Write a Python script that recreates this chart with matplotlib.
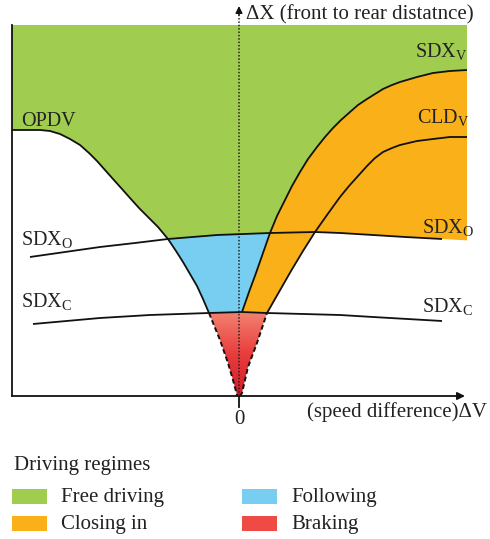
import numpy as np
import matplotlib
matplotlib.use("Agg")
import matplotlib.pyplot as plt
from matplotlib.patches import Polygon, Rectangle
from matplotlib.colors import LinearSegmentedColormap

plt.rcParams['font.family'] = ['Liberation Serif', 'DejaVu Serif']
plt.rcParams['mathtext.fontset'] = 'custom'
plt.rcParams['mathtext.rm'] = 'Liberation Serif'
plt.rcParams['mathtext.it'] = 'Liberation Serif:italic'

# ---- boundary curves in the (ΔV, ΔX) plane ----
opdv_dv = [-227, -199, -189, -179, -169, -159, -150, -142, -134, -126, -117,
           -109, -100, -92, -81, -71, -63, -56, -49, -42, -36, -30]
opdv_dx = [266, 266, 265, 262, 257, 251, 243, 235, 226, 217, 207,
           198, 188, 180, 169, 157, 145, 134, 122, 110, 97, 83]
opdv_tail_dv = [-30, -19, -11, -6, -2, -1]
opdv_tail_dx = [83, 56, 33, 16, 1, 0]

sdxv_dv = [3, 10, 17, 24, 31, 38, 46, 53, 61, 69, 78, 86, 94, 102, 111,
           119, 128, 136, 144, 153, 161, 178, 194, 211, 228]
sdxv_dx = [84, 104, 123, 143, 163, 180, 196, 210, 224, 237, 249, 259, 268, 276, 284,
           291, 297, 302, 307, 311, 314, 319, 323, 325, 326]

cldv_dv = [28, 40, 52, 64, 76, 88, 101, 110, 119, 128, 136, 144, 153, 161,
           178, 194, 211, 228]
cldv_dx = [83, 104, 125, 145, 164, 181, 199, 210, 220, 230, 238, 244, 248, 251,
           255, 257, 259, 259]
cldv_tail_dv = [1, 3, 9, 18, 28]
cldv_tail_dx = [0, 3, 29, 53, 83]

sdxo_dv = [-209, -174, -139, -104, -71, -22, 31, 76, 101, 134, 166, 203]
sdxo_dx = [139, 144, 149, 153, 157, 161, 163, 164, 163, 161, 159, 157]

sdxc_dv = [-206, -139, -89, -30, 3, 28, 101, 134, 203]
sdxc_dx = [72, 78, 81, 83, 84, 83, 81, 79, 75]

regime_labels = ['Free driving', 'Closing in', 'Following', 'Braking']
regime_colors = ['#a0cd50', '#fab018', '#78cef0', '#ef4b44']
GREEN, ORANGE, BLUE, RED = regime_colors

XMIN, XMAX, YMAX = -227, 228, 371

fig = plt.figure(figsize=(4.9, 5.39), dpi=100)
fig.patch.set_facecolor('white')
W, H = 490, 539
ax = fig.add_axes([12 / W, (H - 396) / H, (467 - 12) / W, (396 - 25) / H])
ax.set_xlim(XMIN, XMAX)
ax.set_ylim(0, YMAX)
ax.patch.set_visible(False)


def seg(dv, dx, lo, hi, reverse=False):
    dv = np.asarray(dv, float)
    dx = np.asarray(dx, float)
    m = (dv >= lo) & (dv <= hi)
    pts = np.column_stack([dv[m], dx[m]])
    return pts[::-1] if reverse else pts


def meet(a, b):
    return np.intersect1d(a, b)[0]


v_o_opdv = meet(opdv_dv, sdxo_dv)
v_c_opdv = meet(opdv_dv, sdxc_dv)
v_o_sdxv = meet(sdxv_dv, sdxo_dv)
v_c_sdxv = meet(sdxv_dv, sdxc_dv)
v_o_cldv = meet(cldv_dv, sdxo_dv)
v_c_cldv = meet(cldv_dv, sdxc_dv)

# SDX_O carried on to the right edge of the plot for the orange area
slope = (sdxo_dx[-1] - sdxo_dx[-2]) / (sdxo_dv[-1] - sdxo_dv[-2])
sdxo_edge = sdxo_dx[-1] + slope * (XMAX - sdxo_dv[-1])

green = np.vstack([
    [[XMIN, YMAX], [XMAX, YMAX]],
    seg(sdxv_dv, sdxv_dx, v_o_sdxv, XMAX, True),
    seg(sdxo_dv, sdxo_dx, v_o_opdv, v_o_sdxv, True),
    seg(opdv_dv, opdv_dx, XMIN, v_o_opdv, True),
])
blue = np.vstack([
    seg(opdv_dv, opdv_dx, v_o_opdv, v_c_opdv),
    seg(sdxc_dv, sdxc_dx, v_c_opdv, v_c_sdxv),
    seg(sdxv_dv, sdxv_dx, v_c_sdxv, v_o_sdxv),
    seg(sdxo_dv, sdxo_dx, v_o_opdv, v_o_sdxv, True),
])
orange = np.vstack([
    seg(sdxv_dv, sdxv_dx, v_c_sdxv, XMAX),
    [[XMAX, sdxo_edge]],
    seg(sdxo_dv, sdxo_dx, v_o_cldv, XMAX, True),
    seg(cldv_dv, cldv_dx, v_c_cldv, v_o_cldv, True),
    seg(sdxc_dv, sdxc_dx, v_c_sdxv, v_c_cldv, True),
])
red = np.vstack([
    np.column_stack([opdv_tail_dv, opdv_tail_dx]),
    np.column_stack([cldv_tail_dv, cldv_tail_dx]),
    seg(sdxc_dv, sdxc_dx, v_c_opdv, v_c_cldv, True),
])

for pts, col in [(green, GREEN), (blue, BLUE), (orange, ORANGE)]:
    ax.add_patch(Polygon(pts, closed=True, fc=col, ec='none', zorder=1))

red_patch = Polygon(red, closed=True, fc='none', ec='none', zorder=1)
ax.add_patch(red_patch)
red_cmap = LinearSegmentedColormap.from_list('brake', ['#d21c28', '#e83c3c', '#f3806e'])
grad = np.linspace(0, 1, 256).reshape(-1, 1)
img = ax.imshow(grad, cmap=red_cmap, origin='lower', aspect='auto',
                extent=(min(opdv_tail_dv), max(cldv_tail_dv), 0, max(cldv_tail_dx)),
                zorder=1, interpolation='bilinear')
img.set_clip_path(red_patch)
ax.set_xlim(XMIN, XMAX)
ax.set_ylim(0, YMAX)

line_kw = dict(color='#111111', lw=1.3, zorder=3, solid_joinstyle='round',
               solid_capstyle='butt')
for dv, dx in [(opdv_dv, opdv_dx), (sdxv_dv, sdxv_dx), (cldv_dv, cldv_dx),
               (sdxo_dv, sdxo_dx), (sdxc_dv, sdxc_dx)]:
    ax.plot(dv, dx, **line_kw)
for dv, dx in [(opdv_tail_dv, opdv_tail_dx), (cldv_tail_dv, cldv_tail_dx)]:
    ax.plot(dv, dx, color='#111111', lw=1.4, ls=(0, (2.5, 1.5)), zorder=3)

# axes
for s in ['top', 'right', 'bottom']:
    ax.spines[s].set_visible(False)
ax.spines['left'].set_linewidth(1.3)
ax.spines['left'].set_color('#111111')
ax.set_xticks([])
ax.set_yticks([])

ax.annotate('', xy=(226, 0), xytext=(XMIN, 0), annotation_clip=False,
            arrowprops=dict(arrowstyle='-|>', lw=1.3, color='#111111',
                            mutation_scale=11, shrinkA=0, shrinkB=0))
ax.plot([0, 0], [0, 382], color='#222222', lw=1.1, ls=(0, (1, 1.2)),
        clip_on=False, zorder=4)
ax.annotate('', xy=(0, 390), xytext=(0, 381), annotation_clip=False,
            arrowprops=dict(arrowstyle='-|>', lw=1.1, color='#111111',
                            mutation_scale=10, shrinkA=0, shrinkB=0))
ax.plot([0, 0], [0, -11], color='#111111', lw=1.3, clip_on=False)

FS = 15
ax.text(0, -24, '0', fontsize=FS, ha='center', va='center', color='#222222')
ax.text(248, -16, '(speed difference)ΔV', fontsize=FS, ha='right', va='center',
        color='#222222')
ax.text(7, 381, 'ΔX (front to rear distatnce)', fontsize=FS, ha='left',
        va='center', color='#222222')

LFS = 14.5
labels = [
    (-218, 270, 'OPDV'),
    (-218, 151, r'SDX$_\mathrm{O}$'),
    (-218, 89, r'SDX$_\mathrm{C}$'),
    (176, 339, r'SDX$_\mathrm{V}$'),
    (178, 273, r'CLD$_\mathrm{V}$'),
    (183, 163, r'SDX$_\mathrm{O}$'),
    (183, 84, r'SDX$_\mathrm{C}$'),
]
for x, y, t in labels:
    ax.text(x, y, t, fontsize=LFS, ha='left', va='baseline', color='#222222')

# legend drawn in figure pixel units
lax = fig.add_axes([0, 0, 1, 1])
lax.set_xlim(0, W)
lax.set_ylim(H, 0)
lax.axis('off')
lax.patch.set_visible(False)
lax.text(14, 470, 'Driving regimes', fontsize=FS, ha='left', va='baseline',
         color='#222222')
cols = [12, 12, 242, 242]
rows = [489, 516, 489, 516]
for lab, col, cx, ry in zip(regime_labels, regime_colors, cols, rows):
    lax.add_patch(Rectangle((cx, ry), 35, 15, fc=col, ec='none'))
    lax.text(cx + 49, ry + 13, lab, fontsize=FS, ha='left', va='baseline',
             color='#222222')

fig.savefig('out.png', dpi=100, facecolor='white')
